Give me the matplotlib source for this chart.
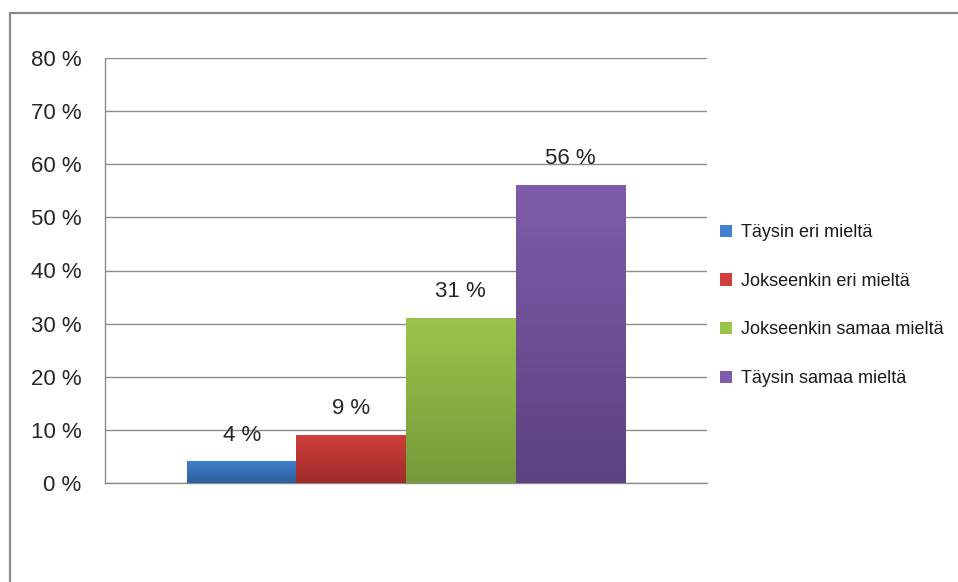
import numpy as np
import matplotlib
matplotlib.use('Agg')
import matplotlib.pyplot as plt
from matplotlib.patches import Rectangle
from matplotlib.colors import LinearSegmentedColormap

plt.rcParams['font.family'] = ['Liberation Sans', 'DejaVu Sans']

# data
categories = ['Täysin eri mieltä', 'Jokseenkin eri mieltä',
              'Jokseenkin samaa mieltä', 'Täysin samaa mieltä']
values = [4, 9, 31, 56]
value_labels = ['4 %', '9 %', '31 %', '56 %']
yticks = [0, 10, 20, 30, 40, 50, 60, 70, 80]
ytick_labels = ['0 %', '10 %', '20 %', '30 %', '40 %', '50 %', '60 %', '70 %', '80 %']

top_cols = ['#4080cc', '#cf3f3c', '#9cc44c', '#7f5caa']
bot_cols = ['#2c5e9c', '#9e2b29', '#76993a', '#5c4280']

fig = plt.figure(figsize=(9.58, 5.82), dpi=100)

# outer chart frame (cut off at right and bottom like the reference)
fig.patches.append(Rectangle((10 / 958, -0.05), 1.0, 1 - 13 / 582 + 0.05,
                             transform=fig.transFigure, fill=False,
                             edgecolor='#8a8a8a', linewidth=1.6))

ax = fig.add_axes([105 / 958, 1 - 483 / 582, 602 / 958, 425 / 582])

w = 0.182
xs = [0.5 + (i - 1.5) * w for i in range(len(values))]
bars = ax.bar(xs, values, width=w, color=top_cols, zorder=3)

# vertical gradient fill on each bar
grad = np.linspace(0, 1, 256).reshape(-1, 1)
for b, c0, c1 in zip(bars, top_cols, bot_cols):
    cmap = LinearSegmentedColormap.from_list('g', [c1, c0])
    x0, y0 = b.get_x(), b.get_y()
    ax.imshow(grad, cmap=cmap, aspect='auto', origin='lower',
              extent=(x0, x0 + b.get_width(), y0, y0 + b.get_height()),
              zorder=3.5)
    b.set_facecolor('none')

for x, v, lab in zip(xs, values, value_labels):
    ax.text(x, v + 5, lab, ha='center', va='center', fontsize=16, color='#262626')

ax.set_xlim(0, 1)
ax.set_ylim(0, 80)
ax.set_yticks(yticks)
ax.set_yticklabels(ytick_labels)
ax.set_xticks([])
ax.tick_params(axis='y', length=0, pad=17, labelsize=16, labelcolor='#262626')
ax.yaxis.grid(True, color='#8c8c8c', linewidth=1.0, zorder=0)
ax.axhline(0, color='#8c8c8c', linewidth=1.0, zorder=2, clip_on=False)
for s in ['top', 'right', 'bottom']:
    ax.spines[s].set_visible(False)
ax.spines['left'].set_color('#8c8c8c')
ax.spines['left'].set_linewidth(1.0)

handles = [Rectangle((0, 0), 1, 1, facecolor=c) for c in top_cols]
fig.legend(handles, categories, loc='upper left',
           bbox_to_anchor=(704 / 958, 1 - 208 / 582), frameon=False,
           fontsize=13, handlelength=0.65, handleheight=0.65, handletextpad=0.5,
           labelspacing=1.75, labelcolor='#1a1a1a')

fig.savefig('out.png', dpi=100)
